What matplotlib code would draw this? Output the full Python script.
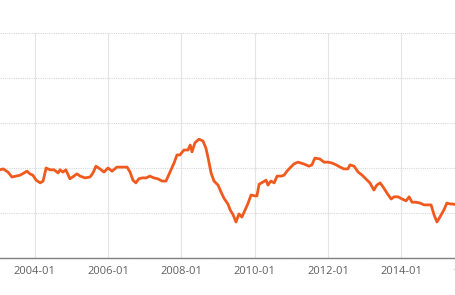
import matplotlib
matplotlib.use('Agg')
import matplotlib.pyplot as plt
import matplotlib.transforms as mtransforms

# values (decimal year, index value)
years = [2003.05, 2003.14, 2003.27, 2003.38, 2003.49, 2003.60, 2003.71, 2003.79, 2003.87, 2003.95,
         2004.04, 2004.15, 2004.23, 2004.31, 2004.42, 2004.53, 2004.64, 2004.69, 2004.77, 2004.85,
         2004.96, 2005.07, 2005.15, 2005.24, 2005.37, 2005.51, 2005.59, 2005.67, 2005.78, 2005.89,
         2006.00, 2006.11, 2006.24, 2006.38, 2006.52, 2006.60, 2006.68, 2006.76, 2006.84, 2006.93,
         2007.04, 2007.14, 2007.25, 2007.36, 2007.47, 2007.58, 2007.69, 2007.80, 2007.88, 2007.96,
         2008.07, 2008.18, 2008.24, 2008.29, 2008.37, 2008.48, 2008.59, 2008.67, 2008.73, 2008.81,
         2008.89, 2009.00, 2009.08, 2009.16, 2009.27, 2009.33, 2009.41, 2009.49, 2009.57, 2009.65,
         2009.74, 2009.82, 2009.90, 2010.01, 2010.06, 2010.12, 2010.23, 2010.31, 2010.36, 2010.44,
         2010.53, 2010.61, 2010.72, 2010.80, 2010.88, 2010.96, 2011.07, 2011.18, 2011.26, 2011.34,
         2011.48, 2011.56, 2011.64, 2011.78, 2011.89, 2012.00, 2012.11, 2012.22, 2012.33, 2012.43,
         2012.54, 2012.60, 2012.71, 2012.82, 2012.93, 2013.03, 2013.14, 2013.25, 2013.33, 2013.42,
         2013.50, 2013.61, 2013.72, 2013.80, 2013.91, 2014.02, 2014.13, 2014.21, 2014.29, 2014.40,
         2014.51, 2014.62, 2014.73, 2014.81, 2014.89, 2014.97, 2015.05, 2015.16, 2015.24, 2015.33,
         2015.41, 2015.49]
values = [1.96, 1.98, 1.91, 1.80, 1.82, 1.84, 1.89, 1.93, 1.87, 1.84,
          1.73, 1.67, 1.71, 2.00, 1.96, 1.96, 1.89, 1.96, 1.91, 1.96,
          1.76, 1.82, 1.87, 1.82, 1.78, 1.80, 1.89, 2.04, 1.98, 1.91,
          2.00, 1.93, 2.02, 2.02, 2.02, 1.91, 1.73, 1.67, 1.76, 1.78,
          1.78, 1.82, 1.78, 1.76, 1.71, 1.71, 1.91, 2.11, 2.29, 2.29,
          2.40, 2.40, 2.51, 2.36, 2.56, 2.64, 2.60, 2.44, 2.22, 1.89,
          1.71, 1.62, 1.47, 1.33, 1.20, 1.07, 0.96, 0.80, 0.98, 0.91,
          1.07, 1.22, 1.40, 1.38, 1.38, 1.64, 1.69, 1.73, 1.62, 1.71,
          1.67, 1.82, 1.82, 1.84, 1.93, 2.00, 2.09, 2.13, 2.11, 2.09,
          2.04, 2.07, 2.22, 2.20, 2.13, 2.13, 2.11, 2.07, 2.02, 1.98,
          1.98, 2.07, 2.04, 1.91, 1.84, 1.76, 1.67, 1.51, 1.62, 1.67,
          1.58, 1.44, 1.31, 1.36, 1.36, 1.31, 1.27, 1.36, 1.24, 1.24,
          1.22, 1.18, 1.18, 1.18, 0.96, 0.80, 0.91, 1.07, 1.22, 1.20,
          1.20, 1.18]

tick_years = [2004, 2006, 2008, 2010, 2012, 2014]
tick_labels = ['2004-01', '2006-01', '2008-01', '2010-01', '2012-01', '2014-01']
# next label sits past the right edge and is only partly seen
edge_year = 2016
edge_label = '2016-01'

fig = plt.figure(figsize=(4.56, 2.95), dpi=100)
ax = fig.add_axes([0, 0.1254, 1, 0.7627])

ax.plot(years, values, color='#f05a1e', linewidth=2.0, solid_joinstyle='round')

ax.set_yticks([0, 1, 2, 3, 4, 5])
ax.set_yticklabels([])
ax.set_xticks(tick_years)
ax.set_xticklabels(tick_labels, fontfamily='Open Sans', fontsize=8, color='#606060')
ax.tick_params(axis='x', length=0, pad=6)
ax.tick_params(axis='y', length=0)
ax.set_xlim(2003.054, 2015.489)
ax.set_ylim(0, 5)

trans = mtransforms.blended_transform_factory(ax.transData, ax.transAxes)
ax.text(edge_year, -0.016, edge_label, transform=trans, ha='center', va='top',
        fontfamily='Open Sans', fontsize=8, color='#606060', clip_on=False)

ax.grid(axis='x', color='#e4e4e4', linewidth=0.8)
ax.grid(axis='y', color='#d8d8d8', linewidth=0.8, linestyle=(0, (1, 1)))
ax.set_axisbelow(True)

for side in ['top', 'left', 'right']:
    ax.spines[side].set_visible(False)
ax.spines['bottom'].set_color('#808080')
ax.spines['bottom'].set_linewidth(1.0)

fig.savefig('out.png', dpi=100)
